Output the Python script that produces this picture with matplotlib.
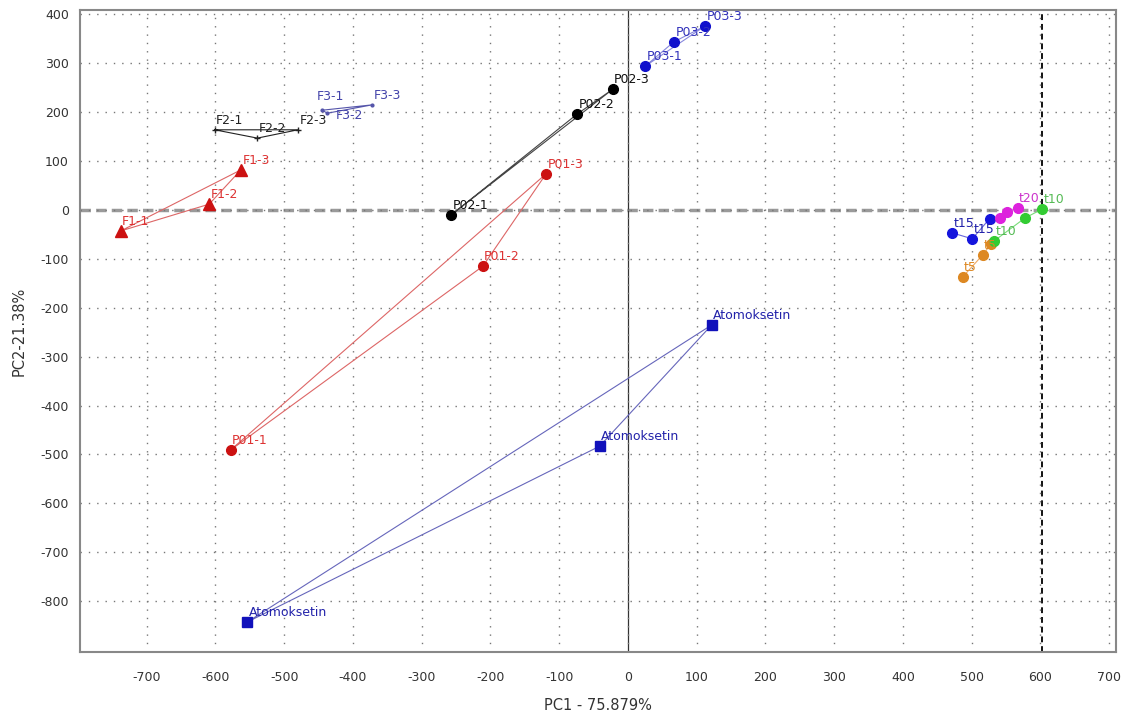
import matplotlib
matplotlib.use("Agg")
import matplotlib.pyplot as plt

# ---- data (PC1, PC2) ----
f1_x = [-738, -609, -563]
f1_y = [-43, 12, 82]
f1_lab = ["F1-1", "F1-2", "F1-3"]

f2_x = [-601, -539, -480]
f2_y = [164, 147, 164]
f2_lab = ["F2-1", "F2-2", "F2-3"]

f3_x = [-445, -437, -372]
f3_y = [204, 198, 215]
f3_lab = ["F3-1", "F3-2", "F3-3"]

p01_x = [-578, -211, -119]
p01_y = [-491, -115, 74]
p01_lab = ["P01-1", "P01-2", "P01-3"]

p02_x = [-257, -74, -22]
p02_y = [-10, 196, 247]
p02_lab = ["P02-1", "P02-2", "P02-3"]

p03_x = [25, 67, 112]
p03_y = [294, 344, 376]
p03_lab = ["P03-1", "P03-2", "P03-3"]

ato_x = [122, -41, -554]
ato_y = [-235, -483, -843]
ato_lab = ["Atomoksetin", "Atomoksetin", "Atomoksetin"]

t15_x = [472, 501, 526]
t15_y = [-47, -59, -18]
t15_lab = ["t15", "t15", ""]

t20_x = [541, 552, 567]
t20_y = [-16, -4, 4]
t20_lab = ["", "", "t20"]

t10_x = [533, 578, 603]
t10_y = [-63, -16, 2]
t10_lab = ["t10", "", "t10"]

t5_x = [487, 516, 528]
t5_y = [-137, -92, -70]
t5_lab = ["t5", "t5", ""]

xticks = list(range(-700, 701, 100))
yticks = list(range(-800, 401, 100))

fig = plt.figure(figsize=(11.28, 7.26), dpi=100)
ax = fig.add_axes([80/1128, 1-652/726, (1116-80)/1128, (652-10)/726])
ax.set_xlim(-797, 710)
ax.set_ylim(-904, 409)

ax.set_xticks(xticks)
ax.set_yticks(yticks)
ax.set_xticklabels([str(v) for v in xticks])
ax.set_yticklabels([str(v) for v in yticks])
ax.tick_params(axis="both", length=0, labelsize=9, colors="#333333")
ax.tick_params(axis="x", pad=14)
ax.tick_params(axis="y", pad=8)
ax.grid(True, linestyle=(0, (1, 5)), color="#777777", linewidth=1.0)
for s in ax.spines.values():
    s.set_color("#888888")
    s.set_linewidth(1.5)

ax.axhline(0, color="#9a9a9a", linewidth=2.5, linestyle=(0, (3, 1.5)), zorder=1)
ax.axvline(0, color="#333333", linewidth=0.9, zorder=1)
ax.axvline(603, color="#111111", linewidth=1.4, linestyle=(0, (3, 2)), zorder=1)

def group(xs, ys, labs, color, lcolor, tcolor, marker, ms, closed=True,
          offsets=None):
    lx = list(xs) + ([xs[0]] if closed else [])
    ly = list(ys) + ([ys[0]] if closed else [])
    ax.plot(lx, ly, color=lcolor, linewidth=0.8, zorder=2)
    ax.plot(xs, ys, linestyle="none", marker=marker, color=color,
            markersize=ms, zorder=3)
    for i, (x, y, t) in enumerate(zip(xs, ys, labs)):
        if t:
            off = offsets[i] if offsets else (1, 2)
            ax.annotate(t, (x, y), xytext=off, textcoords="offset points",
                        ha="left", va="bottom", fontsize=9, color=tcolor,
                        zorder=4)

group(f1_x, f1_y, f1_lab, "#cc1111", "#dd6666", "#dd3333", "^", 9)
group(f2_x, f2_y, f2_lab, "#222222", "#222222", "#222222", "+", 4)
group(f3_x, f3_y, f3_lab, "#5555aa", "#5555aa", "#4444aa", ".", 4,
      offsets=[(-4, 5), (6, -6), (1, 2)])
group(p01_x, p01_y, p01_lab, "#cc1111", "#dd6666", "#dd3333", "o", 7)
group(p02_x, p02_y, p02_lab, "#000000", "#444444", "#111111", "o", 7)
group(p03_x, p03_y, p03_lab, "#1111cc", "#8888dd", "#3333bb", "o", 7)
group(ato_x, ato_y, ato_lab, "#1111bb", "#6666bb", "#2222aa", "s", 7)
group(t5_x, t5_y, t5_lab, "#dd8822", "#eeaa66", "#dd8822", "o", 7, closed=False)
group(t15_x, t15_y, t15_lab, "#1515dd", "#6666dd", "#2222aa", "o", 7, closed=False)
group(t10_x, t10_y, t10_lab, "#33cc33", "#77dd77", "#55bb55", "o", 7, closed=False)
group(t20_x, t20_y, t20_lab, "#dd22dd", "#ee77ee", "#cc33cc", "o", 7, closed=False)

ax.set_xlabel("PC1 - 75.879%", fontsize=10.5, color="#333333", labelpad=10)
ax.set_ylabel("PC2-21.38%", fontsize=10.5, color="#333333", labelpad=10)

fig.savefig("out.png", dpi=100)
